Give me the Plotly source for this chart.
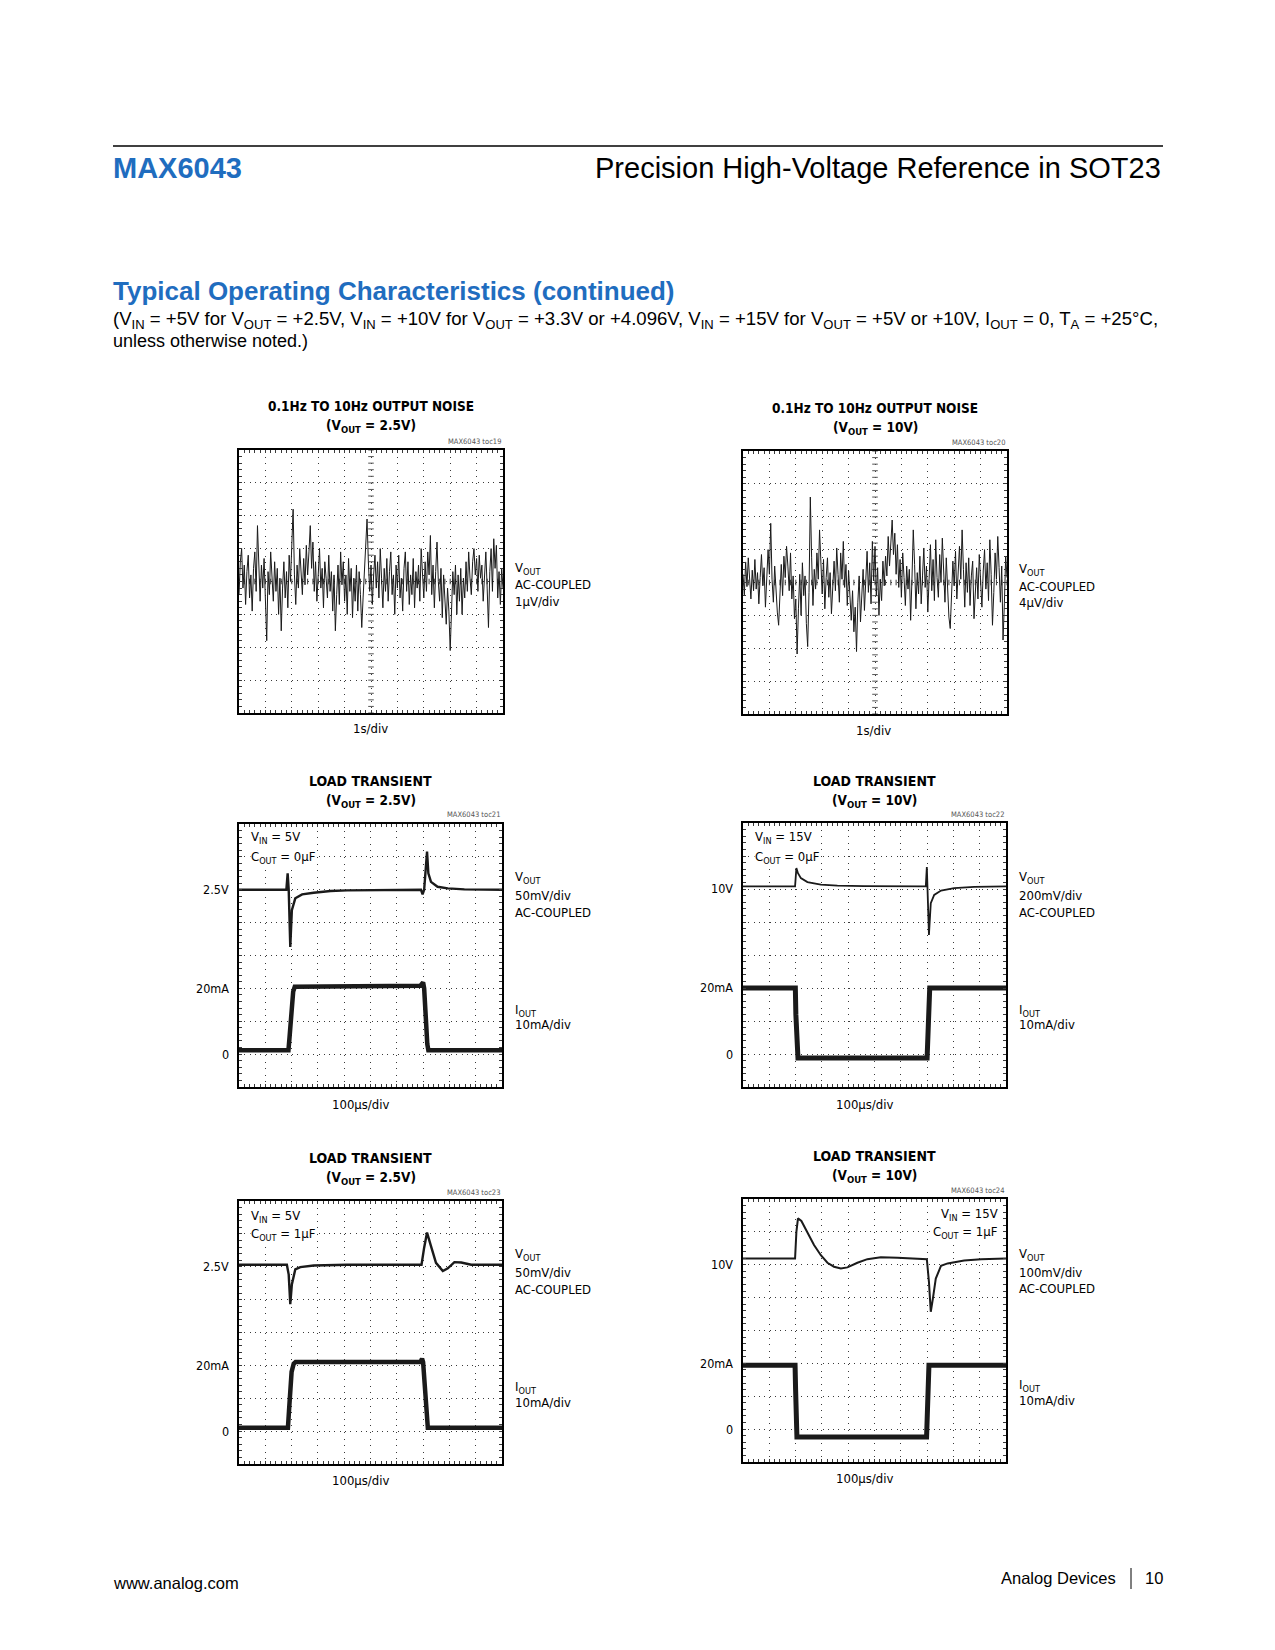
import plotly.graph_objects as go

# page is 1275x1650; the browser body adds an 8px margin, so the figure is drawn 8px in
PAGE_W, PAGE_H = 1275, 1650
OFF = 8
W, H = PAGE_W - 2 * OFF, PAGE_H - 2 * OFF

# ---------------- DATA ----------------
# 0.1Hz to 10Hz output noise, sampled every 0.05 s over 10 s
noise_dt_s = 0.05
noise_2v5_uV = [
    -0.4, 0.6, 1.0, -0.2, 0.5, -0.7, 0.3, 0.8, -0.5, 0.2, -0.9, 0.4, 0.9, -0.3, 1.7, 0.1, -0.6, 0.5, -0.2, 0.7,
    -0.8, -1.8, 0.3, -0.4, 0.9, 0.2, -0.6, 0.6, -0.3, 0.4, -1.0, 0.1, -1.5, -0.2, 0.6, -0.5, 0.3, -0.8, 0.8, 0.0,
    0.9, 2.2, 0.2, -0.7, 0.5, -0.2, 1.0, 0.3, -0.4, 0.7, -0.1, 1.1, 0.2, 0.9, 1.7, 0.4, 1.2, -0.3, 0.6, -0.6,
    0.5, 1.0, -0.2, 0.4, -0.8, 0.6, 0.1, -0.5, 0.8, -0.3, 0.3, -0.9, 0.2, -1.5, -0.4, 0.5, -0.7, 0.9, -0.1, 0.6,
    -0.6, 0.2, -1.0, 0.7, -0.3, 0.4, -1.1, 0.1, -0.6, 0.5, -0.9, 0.3, -0.4, -1.4, -0.5, 0.4, 1.0, 1.9, 0.6, -0.3,
    0.5, -0.7, 0.2, 0.8, -0.2, 0.6, -0.5, 1.0, 0.1, -0.8, 0.4, -0.3, 0.7, -0.6, 0.3, 0.9, -0.4, 0.2, -1.0, 0.5,
    -0.2, 0.8, -0.5, 0.1, -0.9, 0.4, 0.9, -0.3, 0.6, -0.7, 0.2, -0.4, 0.7, -0.8, 0.3, -0.2, 0.5, -0.6, 1.0, 0.1,
    -0.5, 0.6, -0.3, 0.9, 0.2, 1.4, -0.4, 0.5, -0.8, 0.3, 1.2, 0.0, -0.6, 0.4, -1.1, 0.2, -0.5, -1.3, -0.2, -0.9,
    -2.1, -0.7, 0.3, -0.4, 0.5, -1.0, 0.2, -0.6, 0.4, -1.0, 0.1, -0.5, 0.6, -0.3, 0.9, 0.1, -0.4, 0.6, 1.0, 0.2,
    0.7, -0.3, 0.8, 0.1, 0.5, -0.6, 0.4, 0.9, -0.2, -1.4, 0.3, 1.0, -0.3, 1.3, 0.4, 1.1, -0.5, 0.3, -0.7, 0.4,
    -0.2,
]
noise_10v_uV = [
    1.0, -1.5, 2.5, -0.5, 3.0, 0.5, -2.0, 1.5, -1.0, 2.8, -0.8, 1.2, -2.6, 0.6, 3.4, -0.4, 1.8, -3.0, 0.8, 4.0,
    1.0, 7.2, 0.4, -2.4, 2.0, -1.2, -3.6, -5.2, -0.8, 2.2, -1.6, 3.2, 0.6, 4.4, 2.0, -1.0, 3.6, -2.0, 0.8, -4.4,
    -2.0, -8.7, -3.2, 1.0, -4.0, 2.4, -1.6, 0.8, -5.0, -7.8, -1.2, 10.4, 3.0, -2.8, 1.6, -0.8, 3.6, 0.4, 6.4, 2.0,
    -1.4, 2.8, -3.2, 0.6, 3.0, -1.8, 1.2, -3.8, 0.2, 2.6, -1.0, 4.2, 1.0, -2.4, 3.6, 0.4, 5.0, -0.6, 2.2, -2.8,
    1.4, -1.8, -4.6, -1.0, -6.0, -3.0, -8.4, -2.4, 0.8, -4.8, -2.0, 1.6, -3.4, 0.6, 3.8, -1.2, 2.4, -2.6, 5.0, 0.2,
    4.4, -1.6, 1.8, -4.0, 0.4, -2.2, 2.6, -0.4, 3.2, 0.8, 5.6, 2.0, 4.8, 7.6, 3.4, 6.0, 1.0, 4.6, -0.6, 2.8,
    -1.8, 3.6, 0.6, -2.8, 2.0, -0.8, 1.6, -4.6, 0.4, 6.4, 2.2, -3.2, 1.2, -1.4, 3.2, -2.6, 0.8, 4.2, -0.6, 2.0,
    -3.6, 1.4, 4.6, -1.0, 2.8, -2.2, 5.2, 0.6, -1.8, 3.4, 0.0, 5.4, 1.2, -2.4, 3.0, -0.8, -4.2, -5.6, -1.4, 2.6,
    -0.4, 3.8, -2.0, 1.0, 4.4, 0.4, 6.4, 1.6, -3.0, 2.4, -1.2, 3.0, -2.8, 0.8, 2.6, -4.4, -1.0, 1.8, -2.0, 3.4,
    0.2, -3.0, 1.4, 4.0, -0.8, 2.4, -2.2, 5.2, 1.0, -5.2, -1.2, 3.6, 0.4, 5.6, 1.8, -2.4, 2.0, -7.0, -2.6, 3.2,
    0.6,
]

# Load transient toc21 (VOUT = 2.5V, COUT = 0uF)
toc21_v_t_us = [0, 180, 185, 189, 195, 201, 214, 240, 284, 348, 411, 692, 698, 704, 715, 720, 730, 755, 794, 857, 1000]
toc21_v_mV = [0, 0, 25, 0, -87, -31, -13, -7, -4.5, -2, -1, 0, -7, 0, 58, 25, 12, 4.5, 2, 0.5, 0]
toc21_i_t_us = [0, 188, 192, 206, 212, 690, 700, 704, 716, 720, 1000]
toc21_i_mA = [1.2, 1.2, 5, 19, 20.5, 20.8, 21.8, 20, 3, 1.2, 1.2]

# Load transient toc22 (VOUT = 10V, COUT = 0uF)
toc22_v_t_us = [0, 198, 203, 209, 220, 245, 296, 359, 461, 695, 699, 702, 707, 714, 727, 753, 803, 879, 1000]
toc22_v_mV = [16, 16, 127, 96, 66, 42, 26, 20, 17, 16, 133, 16, -278, -86, -36, -9, 5, 13, 16]
toc22_i_t_us = [0, 199, 201, 205, 209, 700, 702, 706, 710, 1000]
toc22_i_mA = [20, 20, 12, 0, -1.2, -1.2, 5, 18, 20, 20]

# Load transient toc23 (VOUT = 2.5V, COUT = 1uF)
toc23_v_t_us = [0, 182, 189, 195, 201, 214, 233, 284, 411, 694, 704, 715, 730, 749, 775, 794, 819, 845, 883, 1000]
toc23_v_mV = [3, 3, -12, -57, -27, -4, -0.5, 2, 3, 3, 29, 52, 31.5, 6, -6.5, -2.5, 7, 6.5, 3, 3]
toc23_i_t_us = [0, 186, 190, 200, 208, 215, 690, 696, 700, 712, 718, 1000]
toc23_i_mA = [1, 1, 6, 18, 20.5, 21, 21, 22, 21, 4, 1, 1]

# Load transient toc24 (VOUT = 10V, COUT = 1uF)
toc24_v_t_us = [0, 198, 203, 209, 222, 245, 270, 296, 321, 346, 372, 397, 435, 473, 524, 588, 699, 707, 714, 722, 733, 753, 778, 841, 905, 1000]
toc24_v_mV = [19, 19, 100, 141, 133, 100, 60, 29, 6, -6, -11, -8, 6, 17, 23, 21, 17, -52, -143, -103, -42, -3, 4, 13, 17, 19]
toc24_i_t_us = [0, 198, 200, 203, 205, 698, 700, 704, 707, 1000]
toc24_i_mA = [19.4, 19.4, 12, 0, -2.4, -2.4, 4, 17, 19.4, 19.4]

# ---------------- STYLE ----------------
NARROW = "Liberation Sans Narrow, Arial Narrow, DejaVu Sans Condensed, sans-serif"
SANS = "Liberation Sans, Arial, Helvetica, sans-serif"
BLUE = "#1f6dbf"
GRID = "#3a3a3a"
TRACE = "#1a1a1a"


def px(x):
    return (x - OFF) / W


def py(y):
    return 1 - (y - OFF) / H


fig = go.Figure()
annotations = []
shapes = []
layout_axes = {}

# panel geometry in page pixels: (left, top, right, bottom)
panels = {
    1: (239, 450, 503, 713),
    2: (743, 451, 1007, 714),
    3: (239, 824, 502, 1087),
    4: (743, 823, 1006, 1087),
    5: (239, 1201, 502, 1464),
    6: (743, 1199, 1006, 1462),
}
# (x range, x per div, VOUT range, VOUT per div)
scales = {
    1: ([0, 10], 1, [-4, 4], 1),
    2: ([0, 10], 1, [-16, 16], 4),
    3: ([0, 1000], 100, [-300, 100], 50),
    4: ([0, 1000], 100, [-1200, 400], 200),
    5: ([0, 1000], 100, [-300, 100], 50),
    6: ([0, 1000], 100, [-600, 200], 100),
}
IOUT_RANGE = [-10, 70]


def axname(prefix, k):
    return prefix + ("" if k == 1 else str(k))


for k, (l, t, r, b) in panels.items():
    xr, xdt, yr, ydt = scales[k]
    common = dict(
        showgrid=True, gridcolor=GRID, gridwidth=1,
        showline=True, linecolor="black", linewidth=2, mirror="allticks",
        ticks="inside", ticklen=3, tickcolor=GRID, tickwidth=1,
        showticklabels=False, zeroline=False, fixedrange=True,
    )
    layout_axes[axname("xaxis", k)] = dict(
        common, domain=[px(l), px(r)], range=xr, tick0=xr[0], dtick=xdt,
        griddash="1px,5.6px", anchor=axname("y", k),
        minor=dict(ticks="inside", ticklen=3, tick0=xr[0], dtick=xdt / 5, tickcolor=GRID, tickwidth=1, showgrid=False),
    )
    layout_axes[axname("yaxis", k)] = dict(
        common, domain=[py(b), py(t)], range=yr, tick0=yr[0], dtick=ydt,
        griddash="1px,4.3px", anchor=axname("x", k),
        minor=dict(ticks="inside", ticklen=3, tick0=yr[0], dtick=ydt / 5, tickcolor=GRID, tickwidth=1, showgrid=False),
    )
    if k >= 3:
        layout_axes["yaxis" + str(6 + k)] = dict(
            overlaying=axname("y", k), range=IOUT_RANGE, anchor=axname("x", k),
            showgrid=False, showline=False, showticklabels=False, zeroline=False,
            ticks="", fixedrange=True,
        )
    else:
        # centre graticule tick marks on the noise screens
        xmid = (xr[0] + xr[1]) / 2
        ymid = (yr[0] + yr[1]) / 2
        xs = [xr[0] + i * xdt / 5 for i in range(51)]
        ys = [yr[0] + i * ydt / 5 for i in range(41)]
        fig.add_trace(go.Scatter(
            x=xs, y=[ymid] * len(xs), mode="markers", xaxis=axname("x", k), yaxis=axname("y", k),
            marker=dict(symbol="line-ns", size=4, line=dict(width=1, color=GRID)), hoverinfo="skip",
        ))
        fig.add_trace(go.Scatter(
            x=[xmid] * len(ys), y=ys, mode="markers", xaxis=axname("x", k), yaxis=axname("y", k),
            marker=dict(symbol="line-ew", size=4, line=dict(width=1, color="#555555")), hoverinfo="skip",
        ))

# noise traces
for k, vals in ((1, noise_2v5_uV), (2, noise_10v_uV)):
    fig.add_trace(go.Scatter(
        x=[i * noise_dt_s for i in range(len(vals))], y=vals, mode="lines",
        xaxis=axname("x", k), yaxis=axname("y", k),
        line=dict(color=TRACE, width=1), hoverinfo="skip",
    ))

# load transient traces
transients = {
    3: (toc21_v_t_us, toc21_v_mV, toc21_i_t_us, toc21_i_mA, 2.4, 4.5),
    4: (toc22_v_t_us, toc22_v_mV, toc22_i_t_us, toc22_i_mA, 1.8, 5.0),
    5: (toc23_v_t_us, toc23_v_mV, toc23_i_t_us, toc23_i_mA, 2.4, 4.5),
    6: (toc24_v_t_us, toc24_v_mV, toc24_i_t_us, toc24_i_mA, 2.0, 5.0),
}
for k, (vt, vv, it, iv, vw, iw) in transients.items():
    fig.add_trace(go.Scatter(
        x=vt, y=vv, mode="lines", xaxis=axname("x", k), yaxis=axname("y", k),
        line=dict(color=TRACE, width=vw), hoverinfo="skip",
    ))
    fig.add_trace(go.Scatter(
        x=it, y=iv, mode="lines", xaxis=axname("x", k), yaxis="y" + str(6 + k),
        line=dict(color=TRACE, width=iw), hoverinfo="skip",
    ))


def text(x, y, s, size, family=NARROW, color="black", xanchor="left", yanchor="middle", bold=False, bg=None):
    if bold:
        s = "<b>" + s + "</b>"
    d = dict(x=px(x), y=py(y), xref="paper", yref="paper", text=s, showarrow=False,
             xanchor=xanchor, yanchor=yanchor, font=dict(family=family, size=size, color=color))
    if bg:
        d.update(bgcolor=bg, borderpad=0)
    annotations.append(d)


# ---------------- page header ----------------
shapes.append(dict(type="line", xref="paper", yref="paper", x0=px(113), x1=px(1163), y0=py(146), y1=py(146),
                   line=dict(color="black", width=1.5)))
text(111, 168, "MAX6043", 29, family=SANS, color=BLUE, bold=True)
text(1163, 168, "Precision High-Voltage Reference in SOT23", 29, family=SANS, xanchor="right")
text(111, 291, "Typical Operating Characteristics (continued)", 26, family=SANS, color=BLUE, bold=True)
text(111, 320, "(V<sub>IN</sub> = +5V for V<sub>OUT</sub> = +2.5V, V<sub>IN</sub> = +10V for V<sub>OUT</sub> = +3.3V or +4.096V, "
               "V<sub>IN</sub> = +15V for V<sub>OUT</sub> = +5V or +10V, I<sub>OUT</sub> = 0, T<sub>A</sub> = +25°C,",
     18.6, family=SANS)
text(111, 341, "unless otherwise noted.)", 18, family=SANS)

# ---------------- chart titles ----------------
titles = {
    1: ("0.1Hz TO 10Hz OUTPUT NOISE", "2.5V", 406, "toc19"),
    2: ("0.1Hz TO 10Hz OUTPUT NOISE", "10V", 408, "toc20"),
    3: ("LOAD TRANSIENT", "2.5V", 781, "toc21"),
    4: ("LOAD TRANSIENT", "10V", 781, "toc22"),
    5: ("LOAD TRANSIENT", "2.5V", 1158, "toc23"),
    6: ("LOAD TRANSIENT", "10V", 1156, "toc24"),
}
for k, (t1, vo, ty, toc) in titles.items():
    l, t, r, b = panels[k]
    cx = (l + r) / 2
    text(cx, ty, t1, 13.5 if k <= 2 else 14, bold=True, xanchor="center")
    text(cx, ty + 20, "(V<sub>OUT</sub> = " + vo + ")", 13.5, bold=True, xanchor="center")
    text(r, t - 9, "MAX6043 " + toc, 7.5, color="#555555", xanchor="right")

# x scale labels
DIVF = 13
text(370, 728, "1s/div", DIVF, xanchor="center")
text(874, 730, "1s/div", DIVF, xanchor="center")
text(360, 1104, "100µs/div", DIVF, xanchor="center")
text(864, 1104, "100µs/div", DIVF, xanchor="center")
text(360, 1480, "100µs/div", DIVF, xanchor="center")
text(864, 1478, "100µs/div", DIVF, xanchor="center")

# right-side channel labels
right_labels = [
    (513, [568, 584, 601], ["V<sub>OUT</sub>", "AC-COUPLED", "1µV/div"]),
    (1017, [570, 586, 603], ["V<sub>OUT</sub>", "AC-COUPLED", "4µV/div"]),
    (513, [877, 895, 912], ["V<sub>OUT</sub>", "50mV/div", "AC-COUPLED"]),
    (1017, [877, 895, 912], ["V<sub>OUT</sub>", "200mV/div", "AC-COUPLED"]),
    (513, [1010, 1025], ["I<sub>OUT</sub>", "10mA/div"]),
    (1017, [1010, 1025], ["I<sub>OUT</sub>", "10mA/div"]),
    (513, [1254, 1272, 1289], ["V<sub>OUT</sub>", "50mV/div", "AC-COUPLED"]),
    (1017, [1254, 1272, 1288], ["V<sub>OUT</sub>", "100mV/div", "AC-COUPLED"]),
    (513, [1387, 1402], ["I<sub>OUT</sub>", "10mA/div"]),
    (1017, [1385, 1400], ["I<sub>OUT</sub>", "10mA/div"]),
]
for x, ys, ss in right_labels:
    for y, s in zip(ys, ss):
        text(x, y, s, 13)

# left-side level labels attached to the axes
levels = {3: "2.5V", 4: "10V", 5: "2.5V", 6: "10V"}
for k, vlab in levels.items():
    l = panels[k][0]
    for lab, yref, yv in ((vlab, axname("y", k), 0), ("20mA", "y" + str(6 + k), 20), ("0", "y" + str(6 + k), 0)):
        annotations.append(dict(x=px(l - 8), y=yv, xref="paper", yref=yref, text=lab, showarrow=False,
                                xanchor="right", yanchor="middle", font=dict(family=NARROW, size=12.5, color="black")))

# in-plot condition labels
text(250, 838, "V<sub>IN</sub> = 5V", 13, bg="white")
text(250, 857, "C<sub>OUT</sub> = 0µF", 13, bg="white")
text(754, 838, "V<sub>IN</sub> = 15V", 13, bg="white")
text(754, 857, "C<sub>OUT</sub> = 0µF", 13, bg="white")
text(250, 1216, "V<sub>IN</sub> = 5V", 13, bg="white")
text(250, 1234, "C<sub>OUT</sub> = 1µF", 13, bg="white")
text(999, 1214, "V<sub>IN</sub> = 15V", 13, xanchor="right", bg="white")
text(999, 1232, "C<sub>OUT</sub> = 1µF", 13, xanchor="right", bg="white")

# ---------------- footer ----------------
text(111, 1583, "www.analog.com", 16.5, family=SANS)
text(1118, 1578, "Analog Devices", 16.5, family=SANS, xanchor="right")
text(1165, 1578, "10", 16.5, family=SANS, xanchor="right")
shapes.append(dict(type="line", xref="paper", yref="paper", x0=px(1131), x1=px(1131), y0=py(1568), y1=py(1589),
                   line=dict(color="black", width=1)))

fig.update_layout(
    width=W, height=H, margin=dict(l=0, r=0, t=0, b=0),
    paper_bgcolor="white", plot_bgcolor="white", showlegend=False,
    annotations=annotations, shapes=shapes, **layout_axes,
)
fig.write_html("out.html")
